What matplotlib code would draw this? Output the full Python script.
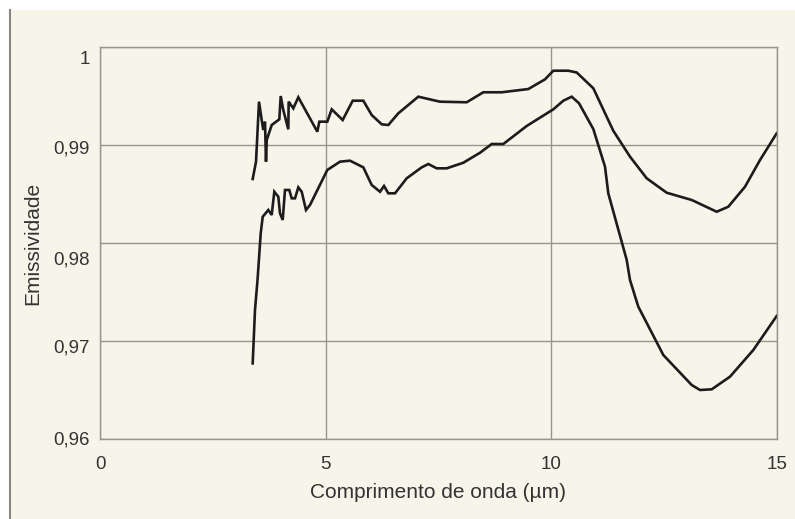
import matplotlib
matplotlib.use("Agg")
import matplotlib.pyplot as plt
from matplotlib.patches import Rectangle
from matplotlib.lines import Line2D
import matplotlib.transforms as mtransforms

plt.rcParams['font.family'] = ['Liberation Sans', 'DejaVu Sans']

# Upper curve
x_upper = [3.383, 3.457, 3.523, 3.583, 3.618, 3.656, 3.678, 3.694, 3.804, 3.973,
           4.004, 4.061, 4.172, 4.18, 4.283, 4.394, 4.815, 4.859, 5.036, 5.134,
           5.377, 5.599, 5.834, 6.020, 6.242, 6.388, 6.609, 7.052, 7.533, 8.125,
           8.493, 8.900, 9.490, 9.860, 10.044, 10.376, 10.562, 10.930, 11.373, 11.743,
           12.113, 12.556, 13.110, 13.664, 13.921, 14.291, 14.624, 14.993]
y_upper = [0.98653, 0.98830, 0.99442, 0.99255, 0.99153, 0.99238, 0.98830, 0.99051, 0.99204, 0.99262,
           0.99500, 0.99357, 0.99160, 0.99442, 0.99374, 0.99487, 0.99136, 0.99238, 0.99238, 0.99364,
           0.99255, 0.99452, 0.99452, 0.99306, 0.99211, 0.99204, 0.99323, 0.99493, 0.99442, 0.99436,
           0.99538, 0.99538, 0.99571, 0.99670, 0.99758, 0.99758, 0.99740, 0.99579, 0.99145, 0.98881,
           0.98660, 0.98513, 0.98439, 0.98319, 0.98370, 0.98574, 0.98847, 0.99119]

# Lower curve
x_lower = [3.383, 3.434, 3.49, 3.561, 3.605, 3.729, 3.804, 3.862, 3.951, 3.988,
           4.048, 4.099, 4.194, 4.247, 4.321, 4.394, 4.469, 4.564, 4.653, 5.036,
           5.318, 5.539, 5.834, 6.020, 6.204, 6.293, 6.388, 6.536, 6.795, 7.128,
           7.274, 7.460, 7.682, 8.050, 8.420, 8.679, 8.936, 9.454, 10.044, 10.265,
           10.451, 10.613, 10.930, 11.189, 11.262, 11.670, 11.743, 11.927, 12.481, 13.110,
           13.294, 13.554, 13.959, 14.475, 14.993]
y_lower = [0.96772, 0.97316, 0.97622, 0.98099, 0.98268, 0.98337, 0.98286, 0.98523, 0.98472, 0.98303,
           0.98235, 0.98541, 0.98541, 0.98456, 0.98456, 0.98568, 0.98523, 0.98337, 0.98388, 0.98745,
           0.98830, 0.98840, 0.98772, 0.98592, 0.98523, 0.98582, 0.98507, 0.98507, 0.98660, 0.98772,
           0.98806, 0.98762, 0.98762, 0.98819, 0.98921, 0.99010, 0.99010, 0.99194, 0.99364, 0.99452,
           0.99493, 0.99426, 0.99163, 0.98779, 0.98507, 0.97827, 0.97622, 0.97350, 0.96857, 0.96551,
           0.96500, 0.96507, 0.96636, 0.96908, 0.97255]

x_ticks = [0, 5, 10, 15]
x_ticklabels = ['0', '5', '10', '15']
y_ticks = [0.96, 0.97, 0.98, 0.99, 1.0]
y_ticklabels = ['0,96', '0,97', '0,98', '0,99', '1']
y_label_shift_px = [1, 7, 17, 4, 13]  # label vertical offsets seen in reference

bg = '#f7f4ea'
gridc = '#97948a'
W, H = 795, 519
fig = plt.figure(figsize=(W / 100, H / 100), dpi=100)
fig.patch.set_facecolor('white')

# beige panel with left edge line
fig.add_artist(Rectangle((9 / W, 0), 1 - 9 / W, 1 - 10 / H, transform=fig.transFigure,
                         facecolor=bg, edgecolor='none', zorder=-10))
fig.add_artist(Line2D([9.5 / W, 9.5 / W], [0, 1 - 10 / H], transform=fig.transFigure,
                      color='#8a8780', lw=1.5, zorder=-9))

ax = fig.add_axes([100 / W, 1 - 439 / H, 677 / W, 392 / H])
ax.set_zorder(1)
ax.set_facecolor(bg)
ax.set_xlim(0, 15)
ax.set_ylim(0.96, 1.0)

for s in ax.spines.values():
    s.set_color(gridc)
    s.set_linewidth(1.0)

ax.set_xticks(x_ticks)
ax.set_xticklabels(x_ticklabels, fontsize=13.5, color='#333333')
ax.set_yticks(y_ticks)
ax.set_yticklabels([])
ax.tick_params(axis='both', length=0)
ax.tick_params(axis='x', pad=12)
ax.grid(True, color=gridc, linewidth=1.0)
ax.set_axisbelow(True)

trans = mtransforms.blended_transform_factory(ax.transAxes, ax.transData)
for yv, lab, sh in zip(y_ticks, y_ticklabels, y_label_shift_px):
    off = mtransforms.ScaledTranslation(-10 / 100, -sh / 100, fig.dpi_scale_trans)
    ax.text(0, yv, lab, transform=trans + off, ha='right', va='center',
            fontsize=13.5, color='#333333')

ax.plot(x_upper, y_upper, color='#1c1c1c', lw=1.9, solid_joinstyle='miter')
ax.plot(x_lower, y_lower, color='#1c1c1c', lw=1.9, solid_joinstyle='miter')

fig.text(438 / W, 1 - 493 / H, 'Comprimento de onda (µm)', ha='center', va='center',
         fontsize=15, color='#333333')
fig.text(33 / W, 1 - 243 / H, 'Emissividade', ha='center', va='center', rotation=90,
         fontsize=15, color='#333333')

fig.savefig('out.png', dpi=100, facecolor=fig.get_facecolor())
